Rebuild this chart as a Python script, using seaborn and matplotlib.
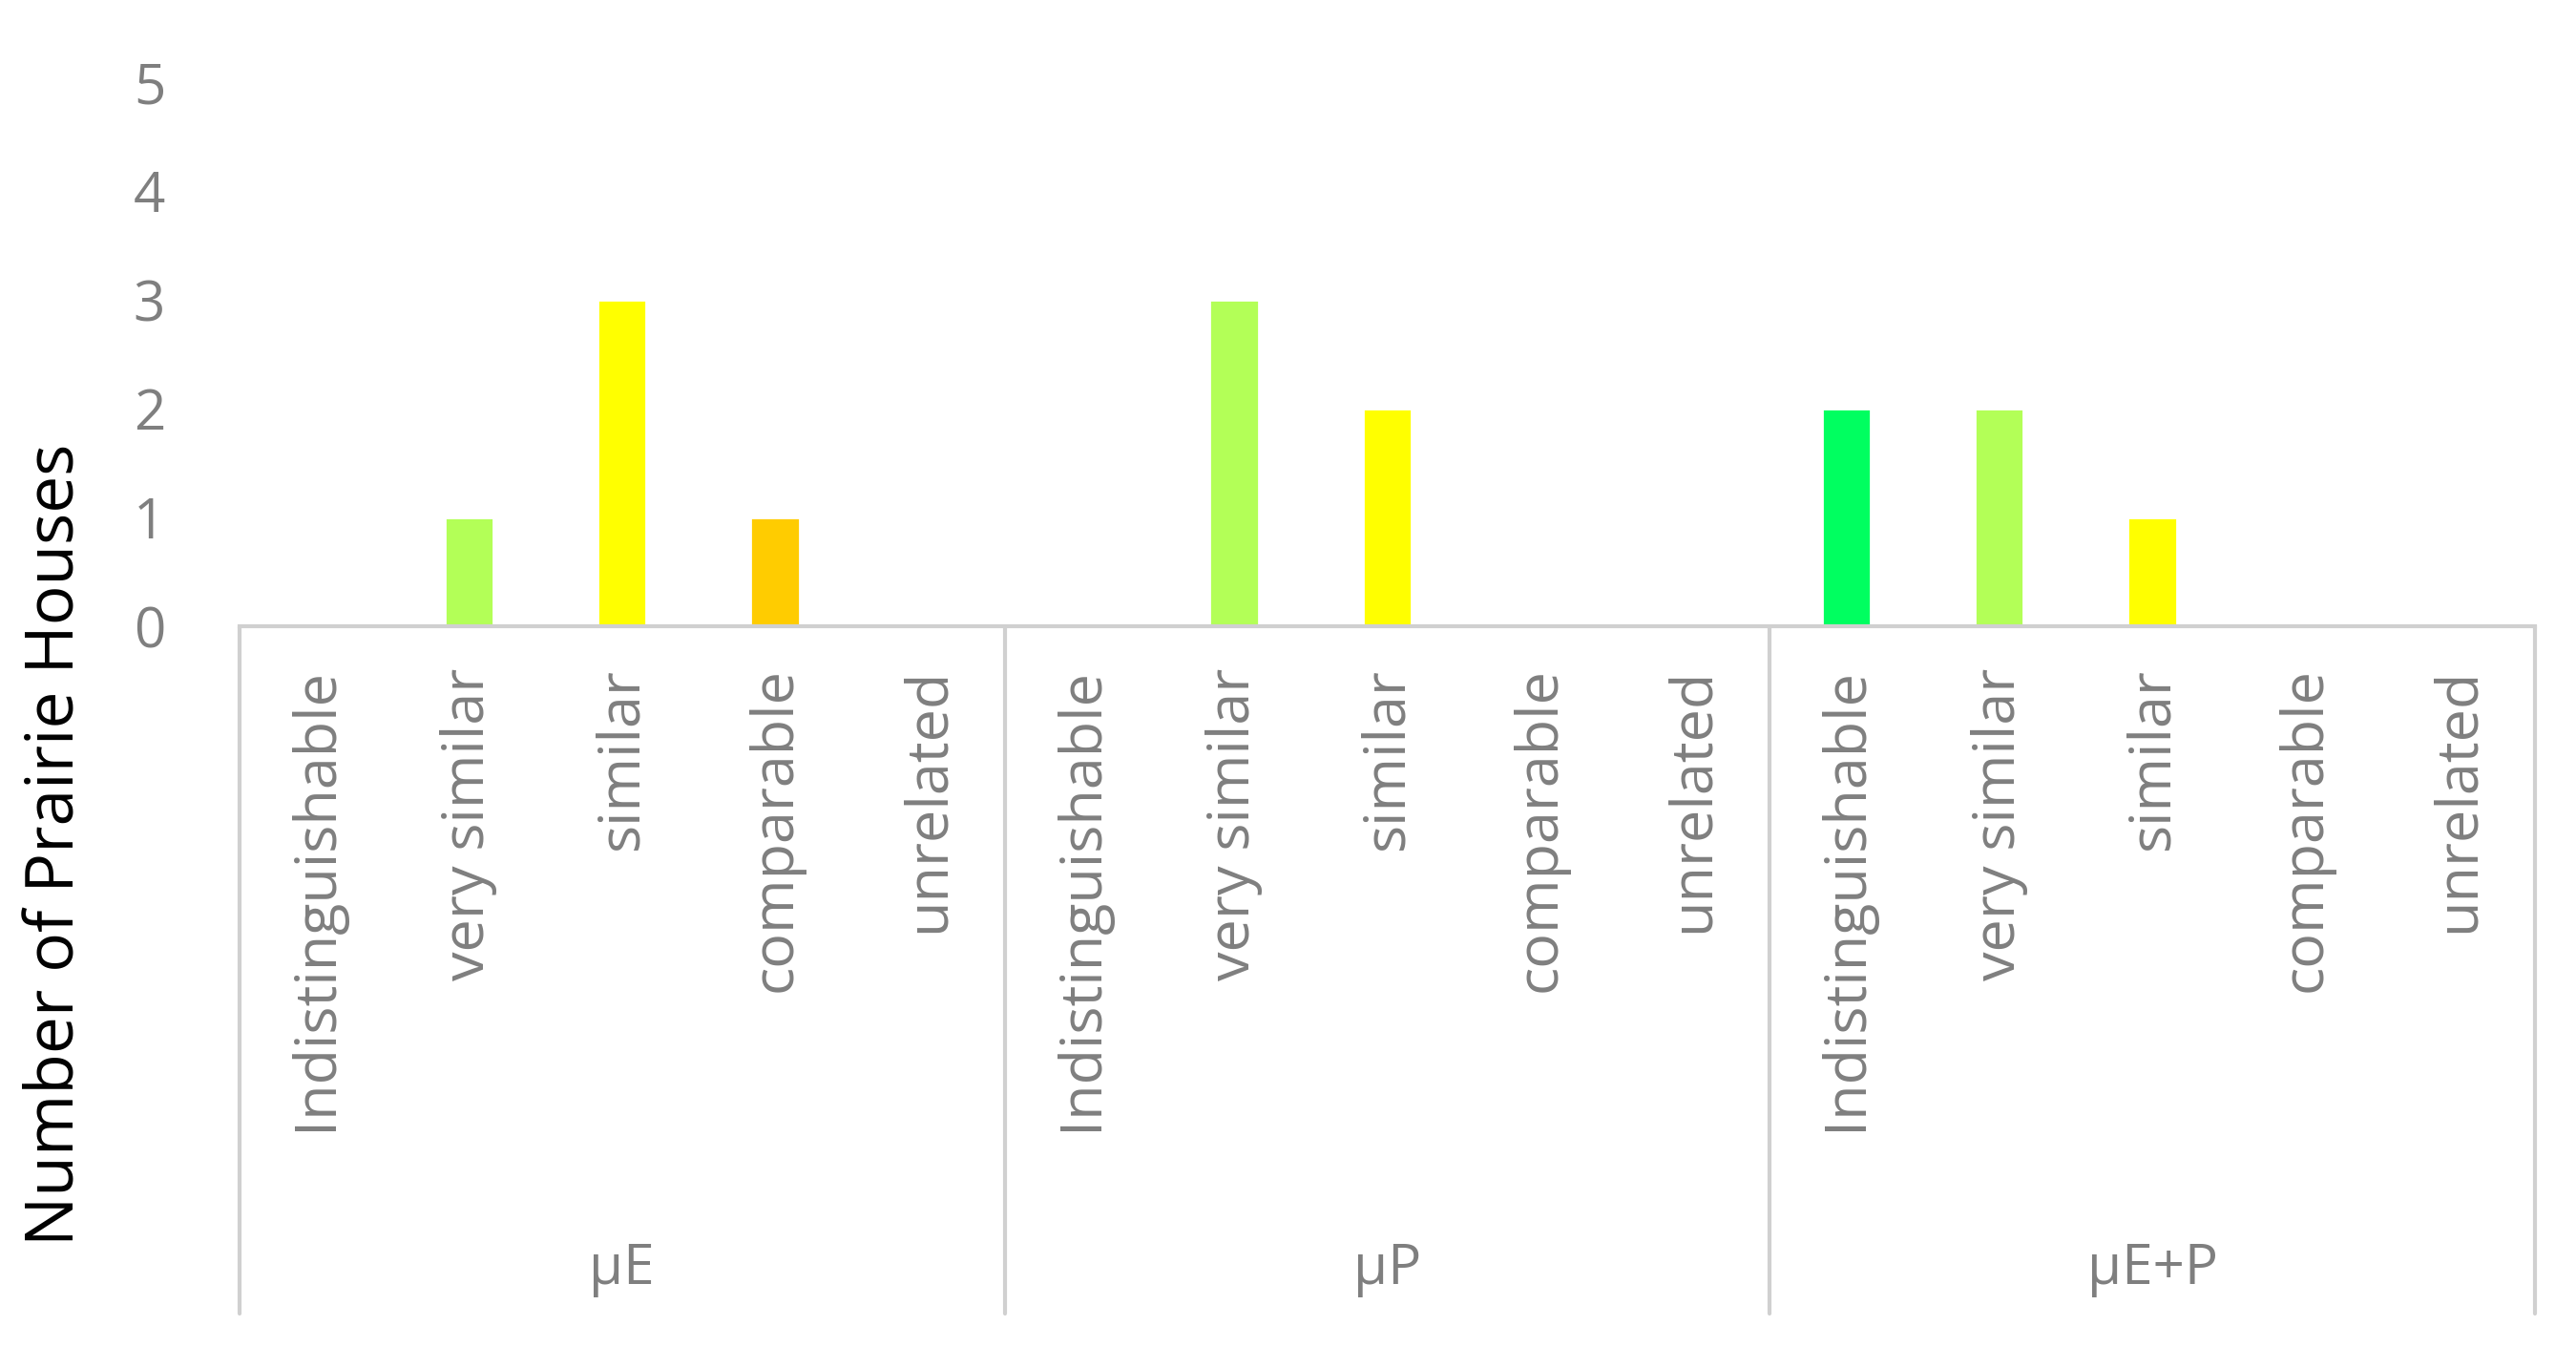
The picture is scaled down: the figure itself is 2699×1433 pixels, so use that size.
import matplotlib
matplotlib.use("Agg")
import matplotlib.pyplot as plt
import seaborn as sns
import pandas as pd
from matplotlib.transforms import blended_transform_factory

groups = ["µE", "µP", "µE+P"]
categories = ["Indistinguishable", "very similar", "similar", "comparable", "unrelated"]
values_muE = [0, 1, 3, 1, 0]
values_muP = [0, 3, 2, 0, 0]
values_muEP = [2, 2, 1, 0, 0]
cat_colors = ["#00FF60", "#B3FF57", "#FFFF00", "#FFCC00", "#FF8000"]

sns.set_style("white")
plt.rcParams['font.family'] = ['Open Sans', 'DejaVu Sans']

rows = []
for g, vals in zip(groups, [values_muE, values_muP, values_muEP]):
    for c, v in zip(categories, vals):
        rows.append({"pos": f"{g}|{c}", "value": v, "cat": c})
df = pd.DataFrame(rows)
palette = {r["pos"]: cat_colors[categories.index(r["cat"])] for r in rows}

fig = plt.figure(figsize=(13.495, 7.165), dpi=200)
ax = fig.add_axes([0.093, 0.542, 0.891, 0.398])
sns.barplot(data=df, x="pos", y="value", hue="pos", palette=palette,
            width=0.32, legend=False, ax=ax, saturation=1)
n = len(df)
ax.set_xlim(-0.5, n - 0.5)
ax.set_ylim(0, 5)
ax.set_yticks(range(6))
ax.tick_params(axis='y', labelsize=21, colors='#7f7f7f', length=0, pad=28)
ax.set_xticks([])
ax.set_xlabel("")
ax.set_ylabel("Number of Prairie Houses", fontsize=25, color='black', labelpad=18)
ax.yaxis.set_label_coords(-0.065, -0.4)
for s in ["top", "right", "left"]:
    ax.spines[s].set_visible(False)
ax.spines["bottom"].set_color("#d0d0d0")
ax.spines["bottom"].set_linewidth(1.5)

tr = blended_transform_factory(ax.transData, fig.transFigure)
for i, r in enumerate(rows):
    ax.text(i, 0.512, r["cat"], rotation=90, ha='center', va='top',
            fontsize=22, color='#7f7f7f', transform=tr)
for gi, g in enumerate(groups):
    ax.text(gi * 5 + 2, 0.072, g, ha='center', va='center', fontsize=21,
            color='#7f7f7f', transform=tr)
for b in range(len(groups) + 1):
    x = b * 5 - 0.5
    ax.plot([x, x], [0.542, 0.04], color='#d0d0d0', lw=1.5, transform=tr, clip_on=False)

fig.savefig("out.png", dpi=200)
